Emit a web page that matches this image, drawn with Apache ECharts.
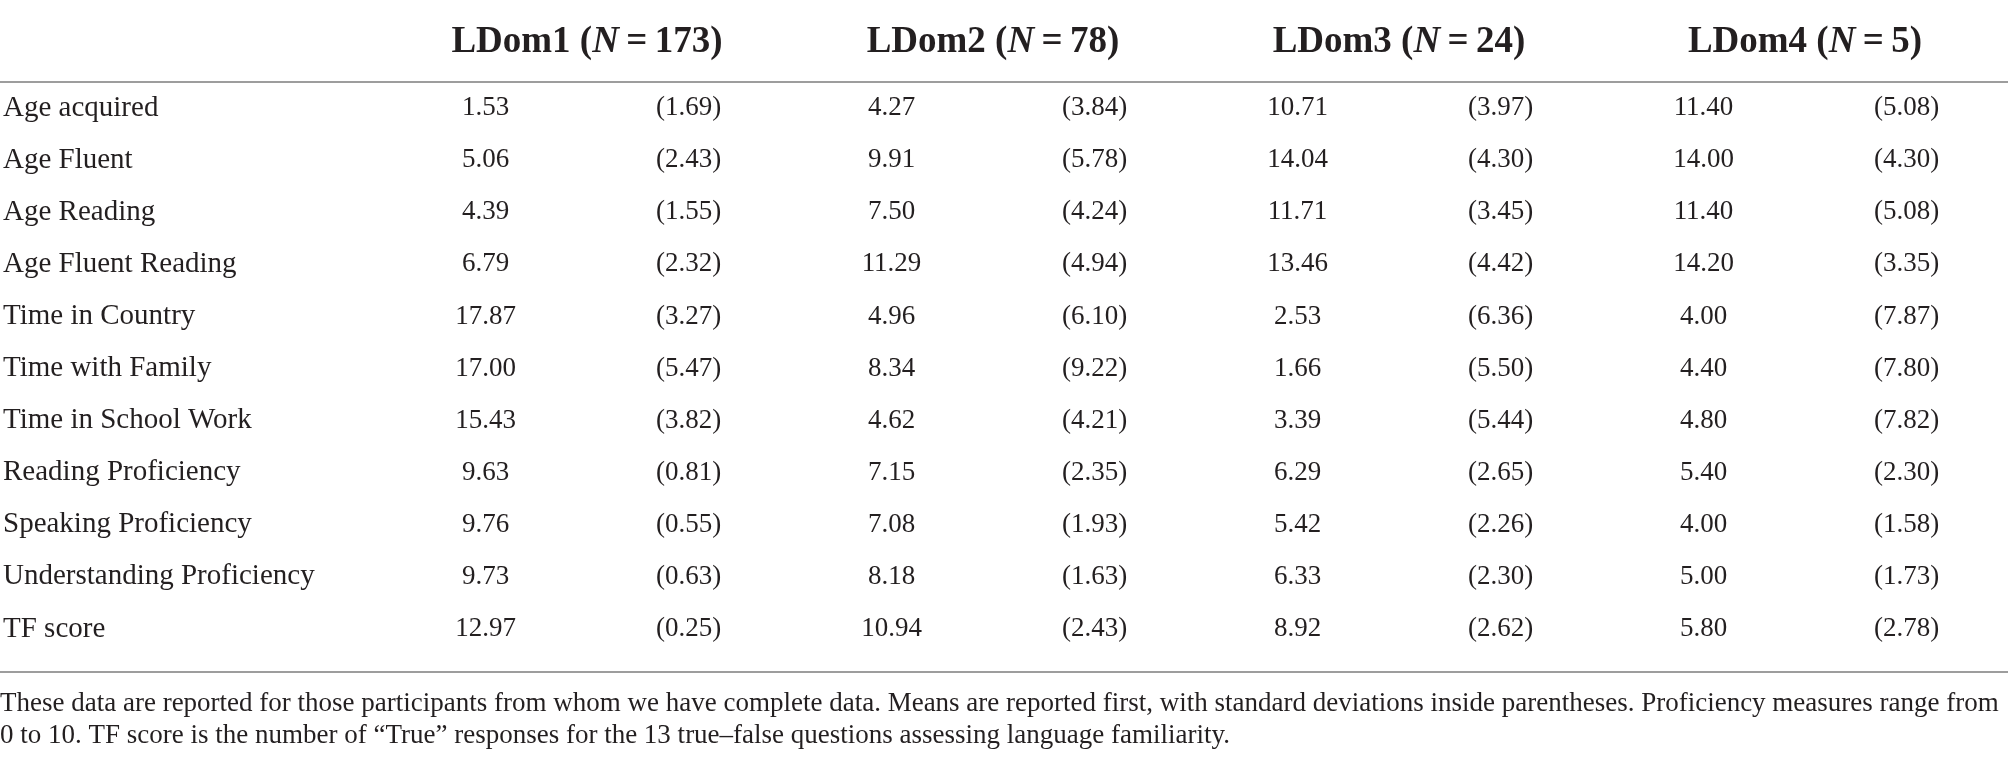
<!DOCTYPE html>
<html>
<head>
<meta charset="utf-8">
<script src="https://cdn.jsdelivr.net/npm/echarts@6/dist/echarts.min.js"></script>
<style>
    html, body { margin: 0; padding: 0; background: #fff; }
    #tableChart { width: 2008px; height: 763px; }
</style>
</head>
<body>
<div id="tableChart"></div>
<script>
// 行名称
var rowNames = ['Age acquired', 'Age Fluent', 'Age Reading', 'Age Fluent Reading', 'Time in Country',
    'Time with Family', 'Time in School Work', 'Reading Proficiency', 'Speaking Proficiency',
    'Understanding Proficiency', 'TF score'];

// 分组
var groupNames = ['LDom1', 'LDom2', 'LDom3', 'LDom4'];
var groupN = [173, 78, 24, 5];

// 均值
var ldom1Mean = [1.53, 5.06, 4.39, 6.79, 17.87, 17.00, 15.43, 9.63, 9.76, 9.73, 12.97];
var ldom2Mean = [4.27, 9.91, 7.50, 11.29, 4.96, 8.34, 4.62, 7.15, 7.08, 8.18, 10.94];
var ldom3Mean = [10.71, 14.04, 11.71, 13.46, 2.53, 1.66, 3.39, 6.29, 5.42, 6.33, 8.92];
var ldom4Mean = [11.40, 14.00, 11.40, 14.20, 4.00, 4.40, 4.80, 5.40, 4.00, 5.00, 5.80];

// 标准差
var ldom1Sd = [1.69, 2.43, 1.55, 2.32, 3.27, 5.47, 3.82, 0.81, 0.55, 0.63, 0.25];
var ldom2Sd = [3.84, 5.78, 4.24, 4.94, 6.10, 9.22, 4.21, 2.35, 1.93, 1.63, 2.43];
var ldom3Sd = [3.97, 4.30, 3.45, 4.42, 6.36, 5.50, 5.44, 2.65, 2.26, 2.30, 2.62];
var ldom4Sd = [5.08, 4.30, 5.08, 3.35, 7.87, 7.80, 7.82, 2.30, 1.58, 1.73, 2.78];

var footNote = 'These data are reported for those participants from whom we have complete data. Means are reported first, with standard deviations inside parentheses. Proficiency measures range from\n' +
    '0 to 10. TF score is the number of \u201cTrue\u201d responses for the 13 true\u2013false questions assessing language familiarity.';

var textColor = '#231f20';
var ruleColor = '#9d9d9d';
var serif = '"Liberation Serif", "DejaVu Serif", serif';

function tableChartRender() {
    var chart = echarts.init(document.getElementById('tableChart'));

    var means = [ldom1Mean, ldom2Mean, ldom3Mean, ldom4Mean];
    var sds = [ldom1Sd, ldom2Sd, ldom3Sd, ldom4Sd];

    // 每组两列: 均值 / (标准差)
    var colKeys = [];
    for (var g = 0; g < groupNames.length; g++) {
        colKeys.push(groupNames[g] + ' M', groupNames[g] + ' SD');
    }

    var cells = [];
    for (var g = 0; g < groupNames.length; g++) {
        for (var r = 0; r < rowNames.length; r++) {
            cells.push([g * 2, r, means[g][r].toFixed(2)]);
            cells.push([g * 2 + 1, r, '(' + sds[g][r].toFixed(2) + ')']);
        }
    }

    var option = {
        animation: false,
        backgroundColor: '#fff',
        title: {
            text: footNote,
            left: 0,
            top: 688,
            padding: 0,
            textStyle: {
                fontFamily: serif,
                fontWeight: 'normal',
                fontSize: 27,
                lineHeight: 32,
                color: textColor
            }
        },
        grid: {
            left: 379,
            right: 0,
            top: 82,
            bottom: 108
        },
        xAxis: [{
            type: 'category',
            data: colKeys,
            axisLine: { show: false },
            axisTick: { show: false },
            axisLabel: { show: false },
            splitLine: { show: false }
        }, {
            // 表头
            type: 'category',
            position: 'top',
            data: groupNames,
            axisLine: { show: false },
            axisTick: { show: false },
            splitLine: { show: false },
            axisLabel: {
                margin: 40,
                verticalAlign: 'middle',
                formatter: function (val, idx) {
                    return '{b|' + val + ' (}{n|N}{b|\u2009=\u2009' + groupN[idx] + ')}';
                },
                rich: {
                    b: { fontFamily: serif, fontWeight: 'bold', fontSize: 37, color: textColor },
                    n: { fontFamily: serif, fontWeight: 'bold', fontStyle: 'italic', fontSize: 37, color: textColor }
                }
            }
        }],
        yAxis: {
            type: 'category',
            inverse: true,
            data: rowNames,
            axisLine: { show: false },
            axisTick: { show: false },
            splitLine: { show: false },
            axisLabel: {
                align: 'left',
                margin: 381,
                fontFamily: serif,
                fontSize: 29,
                color: textColor
            }
        },
        // 表格横线
        graphic: [{
            type: 'line',
            shape: { x1: 0, y1: 82, x2: 2008, y2: 82 },
            style: { stroke: ruleColor, lineWidth: 2 }
        }, {
            type: 'line',
            shape: { x1: 0, y1: 672, x2: 2008, y2: 672 },
            style: { stroke: ruleColor, lineWidth: 2 }
        }],
        series: [{
            // 单元格文字
            type: 'custom',
            data: cells,
            encode: { x: 0, y: 1 },
            renderItem: function (params, api) {
                var pt = api.coord([api.value(0), api.value(1)]);
                return {
                    type: 'text',
                    x: pt[0],
                    y: pt[1],
                    style: {
                        text: cells[params.dataIndex][2],
                        fill: textColor,
                        font: '27px ' + serif,
                        align: 'center',
                        verticalAlign: 'middle'
                    }
                };
            }
        }]
    };

    chart.setOption(option);
}

tableChartRender();
</script>
</body>
</html>
